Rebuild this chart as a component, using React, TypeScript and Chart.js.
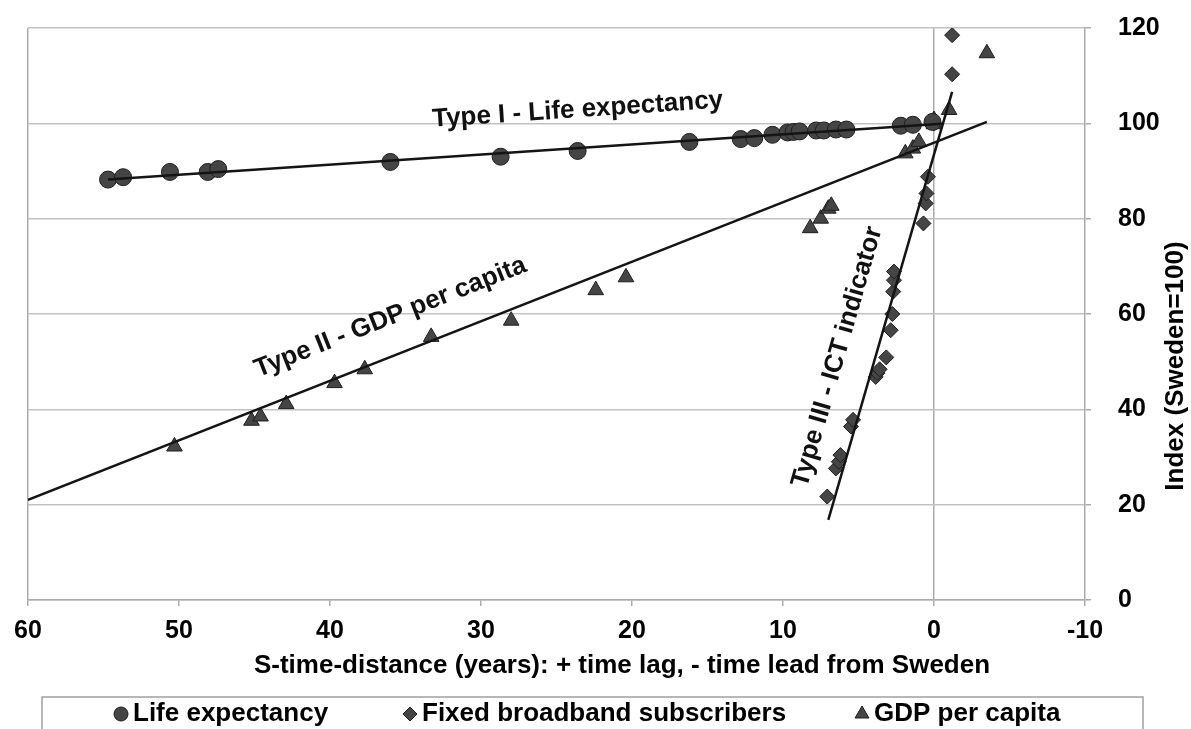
import React, { useEffect, useRef } from "react";
import { Chart, registerables } from "chart.js";

Chart.register(...registerables);

const FONT = "'Liberation Sans', Arial, Helvetica, sans-serif";

// Series names shown in the legend
const seriesNames = ["Life expectancy", "Fixed broadband subscribers", "GDP per capita"];

// Life expectancy: S-time-distance (years) vs index (Sweden = 100)
const lifeX = [54.7, 53.7, 50.6, 48.1, 47.4, 36.0, 28.7, 23.6, 16.2, 12.8, 11.9, 10.7, 9.7, 9.3, 8.9, 7.8, 7.3, 6.5, 5.8, 2.2, 1.4, 0.1];
const lifeY = [88.2, 88.7, 89.8, 89.8, 90.4, 91.9, 93.0, 94.2, 96.1, 96.7, 96.9, 97.6, 98.1, 98.2, 98.3, 98.5, 98.5, 98.7, 98.7, 99.5, 99.7, 100.3];

// Fixed broadband subscribers
const bbX = [7.07, 6.5, 6.3, 6.2, 5.5, 5.36, 3.86, 3.75, 3.6, 3.16, 2.87, 2.76, 2.7, 2.65, 2.65, 0.7, 0.55, 0.5, 0.4, 0.0, -1.2, -1.2];
const bbY = [21.7, 27.6, 29.0, 30.4, 36.4, 37.8, 46.8, 47.6, 48.4, 50.9, 56.6, 60.0, 64.7, 67.1, 68.9, 79.0, 83.2, 85.3, 88.8, 100.0, 110.3, 118.5];

// GDP per capita
const gdpX = [50.3, 45.2, 44.6, 42.9, 39.7, 37.7, 33.3, 28.0, 22.4, 20.4, 8.2, 7.5, 7.0, 6.8, 1.9, 1.4, 1.0, 0.0, 0.0, -1.0, -3.5];
const gdpY = [32.2, 37.6, 38.5, 41.1, 45.5, 48.4, 55.2, 58.6, 65.0, 67.7, 78.0, 80.0, 82.1, 82.7, 93.7, 94.7, 96.1, 100.7, 99.8, 102.8, 114.7];

// Fitted trend lines (start and end of each)
const trendLifeX = [54.7, -0.5];
const trendLifeY = [88.2, 99.9];
const trendGdpX = [60, -3.5];
const trendGdpY = [21.0, 100.3];
const trendIctX = [7.0, -1.2];
const trendIctY = [16.8, 106.6];

// Trend line captions and where they sit (data units)
const trendLabels = ["Type I - Life expectancy", "Type II - GDP per capita", "Type III - ICT indicator"];
const trendLabelX = [23.6, 36.0, 6.4];
const trendLabelY = [102.8, 59.3, 51.0];

// Axis texts
const xTitle = "S-time-distance (years): + time lag, - time lead from Sweden";
const yTitle = "Index (Sweden=100)";
const xMin = -10, xMax = 60, xStep = 10;
const yMin = 0, yMax = 120, yStep = 20;

const MARKER_FILL = "#454545";
const MARKER_EDGE = "#1e1e1e";
const GRID = "#c2c2c2";
const FRAME = "#ababab";

const toPoints = (xs: number[], ys: number[]) => xs.map((x, i) => ({ x, y: ys[i] }));

function drawMarker(ctx: CanvasRenderingContext2D, style: string, cx: number, cy: number, r: number) {
  ctx.beginPath();
  if (style === "circle") {
    ctx.arc(cx, cy, r, 0, Math.PI * 2);
  } else if (style === "diamond") {
    ctx.moveTo(cx, cy - r);
    ctx.lineTo(cx + r, cy);
    ctx.lineTo(cx, cy + r);
    ctx.lineTo(cx - r, cy);
    ctx.closePath();
  } else {
    ctx.moveTo(cx, cy - r);
    ctx.lineTo(cx + r * 0.87, cy + r * 0.5);
    ctx.lineTo(cx - r * 0.87, cy + r * 0.5);
    ctx.closePath();
  }
  ctx.fillStyle = MARKER_FILL;
  ctx.strokeStyle = MARKER_EDGE;
  ctx.lineWidth = 1;
  ctx.fill();
  ctx.stroke();
}

const overlay = {
  id: "overlay",
  afterDatasetsDraw(chart: any) {
    const { ctx, scales } = chart;
    const xs = scales.x, ys = scales.y;
    const trends = [
      [trendLifeX, trendLifeY],
      [trendGdpX, trendGdpY],
      [trendIctX, trendIctY],
    ];
    ctx.save();
    ctx.font = `bold 26px ${FONT}`;
    ctx.fillStyle = "#111";
    ctx.textAlign = "center";
    ctx.textBaseline = "middle";
    trends.forEach(([tx, ty], i) => {
      const x1 = xs.getPixelForValue(tx[0]);
      const y1 = ys.getPixelForValue(ty[0]);
      const x2 = xs.getPixelForValue(tx[1]);
      const y2 = ys.getPixelForValue(ty[1]);
      const angle = Math.atan2(y2 - y1, x2 - x1);
      const px = xs.getPixelForValue(trendLabelX[i]);
      const py = ys.getPixelForValue(trendLabelY[i]);
      ctx.save();
      ctx.translate(px, py);
      ctx.rotate(angle);
      ctx.fillText(trendLabels[i], 0, 0);
      ctx.restore();
    });
    ctx.restore();
  },
  afterDraw(chart: any) {
    const { ctx } = chart;
    ctx.save();
    ctx.fillStyle = "#000";
    ctx.textBaseline = "middle";

    // y-axis title, reading bottom to top
    ctx.font = `bold 26px ${FONT}`;
    ctx.textAlign = "center";
    ctx.save();
    ctx.translate(1176, 366);
    ctx.rotate(-Math.PI / 2);
    ctx.fillText(yTitle, 0, 0);
    ctx.restore();

    // x-axis title
    ctx.font = `bold 26px ${FONT}`;
    ctx.fillText(xTitle, 622, 666);

    // legend box
    ctx.strokeStyle = "#a0a0a0";
    ctx.lineWidth = 1.5;
    ctx.strokeRect(42, 697, 1101, 60);

    const styles = ["circle", "diamond", "triangle"];
    const markerX = [121, 410, 862];
    const sizes = [7, 7, 8];
    ctx.textAlign = "left";
    styles.forEach((s, i) => {
      drawMarker(ctx, s, markerX[i], 714, sizes[i]);
      ctx.fillStyle = "#000";
      ctx.font = `bold 26px ${FONT}`;
      ctx.fillText(seriesNames[i], markerX[i] + 12, 714);
    });
    ctx.restore();
  },
};

export default function App() {
  const ref = useRef<HTMLCanvasElement | null>(null);

  useEffect(() => {
    if (!ref.current) return;
    const tickFont = { family: FONT, size: 25, weight: "bold" as const };
    const lineDs = (xs: number[], ys: number[]) => ({
      data: toPoints(xs, ys),
      showLine: true,
      borderColor: "#141414",
      borderWidth: 2.5,
      pointRadius: 0,
      pointHoverRadius: 0,
      order: 0,
    });
    const markerDs = (label: string, xs: number[], ys: number[], style: string, r: number) => ({
      label,
      data: toPoints(xs, ys),
      pointStyle: style,
      pointRadius: r,
      backgroundColor: MARKER_FILL,
      borderColor: MARKER_EDGE,
      borderWidth: 1,
      showLine: false,
      order: 1,
    });

    const chart = new Chart(ref.current, {
      type: "scatter",
      data: {
        datasets: [
          markerDs(seriesNames[0], lifeX, lifeY, "circle", 8.5),
          markerDs(seriesNames[1], bbX, bbY, "rectRot", 7.5),
          markerDs(seriesNames[2], gdpX, gdpY, "triangle", 9),
          lineDs(trendLifeX, trendLifeY),
          lineDs(trendGdpX, trendGdpY),
          lineDs(trendIctX, trendIctY),
        ] as any,
      },
      options: {
        responsive: false,
        animation: false,
        events: [],
        layout: { padding: { top: 28, left: 28, right: 0, bottom: 0 } },
        plugins: {
          legend: { display: false },
          tooltip: { enabled: false },
        },
        scales: {
          x: {
            type: "linear",
            reverse: true,
            min: xMin,
            max: xMax,
            ticks: { stepSize: xStep, font: tickFont, color: "#000", padding: 10, maxRotation: 0 },
            grid: {
              color: (c: any) =>
                c.tick && (c.tick.value === 0 || c.tick.value === xMax) ? FRAME : "rgba(0,0,0,0)",
              tickColor: FRAME,
              lineWidth: 1.5,
              tickLength: 6,
            },
            border: { color: FRAME, width: 1.5 },
            afterFit: (s: any) => {
              s.height = 129;
            },
          },
          y: {
            type: "linear",
            position: "right",
            min: yMin,
            max: yMax,
            ticks: { stepSize: yStep, font: tickFont, color: "#000", padding: 27 },
            grid: { color: GRID, lineWidth: 1.5, tickLength: 6, tickColor: FRAME },
            border: { color: FRAME, width: 1.5 },
            title: { display: false },
            afterFit: (s: any) => {
              s.width = 106;
              s.paddingTop = 0;
              s.paddingBottom = 0;
            },
          },
        },
      } as any,
      plugins: [overlay],
    });
    return () => chart.destroy();
  }, []);

  return (
    <div style={{ position: "absolute", left: 0, top: 0, width: 1191, height: 729, background: "#fff" }}>
      <canvas ref={ref} width={1191} height={729} style={{ display: "block" }} />
    </div>
  );
}
